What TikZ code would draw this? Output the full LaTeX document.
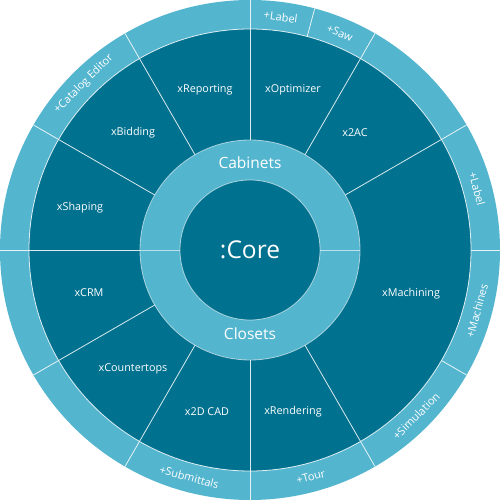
\documentclass[tikz,border=0pt]{standalone}
\usepackage{fontspec}
\setmainfont{Open Sans}
\definecolor{darkteal}{RGB}{0,113,143}
\definecolor{lightteal}{RGB}{84,181,207}
\tikzset{
  seclabel/.style={text=white,font=\fontsize{10.8}{12}\selectfont,inner sep=0pt},
  ringlabel/.style={text=white,font=\fontsize{11}{12}\selectfont,inner sep=0pt},
  midlabel/.style={text=white,font=\fontsize{15.5}{17}\selectfont,inner sep=0pt},
  sepline/.style={white,line width=0.8pt,opacity=0.85},
}
\begin{document}
\begin{tikzpicture}
\useasboundingbox (-250pt,-250pt) rectangle (250pt,250pt);
% outer light disk
\fill[lightteal] (0,0) circle[radius=250pt];
% dark annulus of modules
\fill[darkteal,even odd rule] (0,0) circle[radius=221pt] (0,0) circle[radius=110pt];
% core
\fill[darkteal] (0,0) circle[radius=70pt];
% circle separators
\draw[sepline] (0,0) circle[radius=221pt];
\draw[sepline,opacity=0.6] (0,0) circle[radius=110pt];
\draw[sepline,opacity=0.6] (0,0) circle[radius=70pt];
% radial separators in the module ring
\foreach \a in {30,60,90,120,150,180,210,240,270,300}
  \draw[sepline] (\a:110pt) -- (\a:221pt);
% radial separators in the outer ring
\foreach \a in {0,30,60,75,90,120,150,180,210,240,270,300,330}
  \draw[sepline] (\a:221pt) -- (\a:250pt);
% separators in the inner ring
\draw[sepline,opacity=0.6] (0:70pt) -- (0:110pt);
\draw[sepline,opacity=0.6] (180:70pt) -- (180:110pt);
% core and inner ring labels
\node[text=white,font=\fontsize{24.5}{28}\selectfont,inner sep=0pt] (core) at (0pt,0pt) {:Core};
\node[midlabel] (cabinets) at (0pt,87pt) {Cabinets};
\node[midlabel] (closets) at (0pt,-84pt) {Closets};
% module labels
\node[seclabel] (reporting) at (-45pt,160pt) {xReporting};
\node[seclabel] (optimizer) at (43pt,160pt) {xOptimizer};
\node[seclabel] (bidding) at (-117pt,117pt) {xBidding};
\node[seclabel] (twoac) at (105pt,117pt) {x2AC};
\node[seclabel] (shaping) at (-170pt,42pt) {xShaping};
\node[seclabel] (crm) at (-161pt,-43pt) {xCRM};
\node[seclabel] (countertops) at (-117pt,-119pt) {xCountertops};
\node[seclabel] (cad) at (-43pt,-162pt) {x2D CAD};
\node[seclabel] (rendering) at (43pt,-162pt) {xRendering};
\node[seclabel] (machining) at (161pt,-44pt) {xMachining};
% outer ring labels
\node[ringlabel,rotate=-7.5] (labeltop) at (82.5:235pt) {+Label};
\node[ringlabel,rotate=-22.5] (saw) at (67.5:235pt) {+Saw};
\node[ringlabel,rotate=45] (catalog) at (135:235pt) {+Catalog Editor};
\node[ringlabel,rotate=-75] (labelright) at (15:235pt) {+Label};
\node[ringlabel,rotate=75] (machines) at (345:235pt) {+Machines};
\node[ringlabel,rotate=45] (simulation) at (315:235pt) {+Simulation};
\node[ringlabel,rotate=15] (tour) at (285:235pt) {+Tour};
\node[ringlabel,rotate=-15] (submittals) at (255:235pt) {+Submittals};
\end{tikzpicture}
\end{document}
